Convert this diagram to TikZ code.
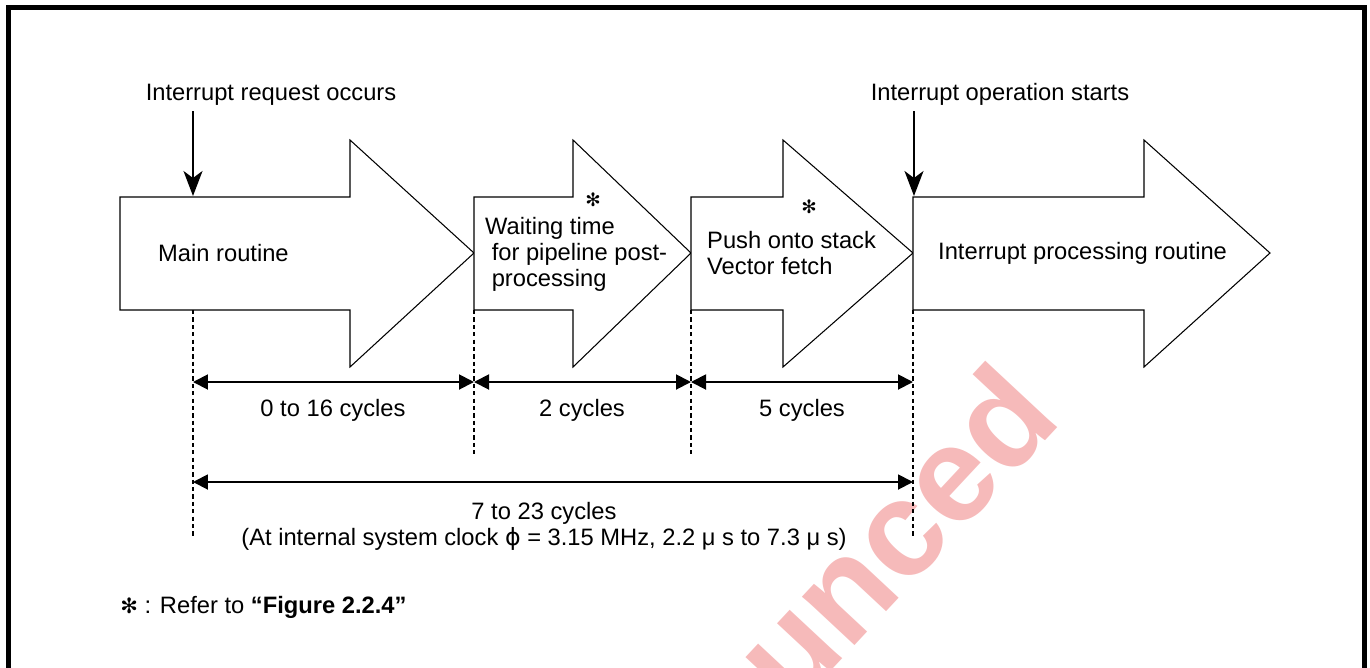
\documentclass[tikz,border=0pt]{standalone}
\usepackage{fontspec}
\setmainfont{Liberation Sans}
\newfontfamily\symfont{DejaVu Sans}
\usetikzlibrary{arrows.meta}

\definecolor{stampred}{RGB}{246,186,186}

\begin{document}
\begin{tikzpicture}[x=0.02cm, y=-0.02cm,
  font=\fontsize{13.5}{14.8}\selectfont,
  blockarrow/.style={draw, line width=0.6pt, fill=white},
  guide/.style={line width=0.6pt, dash pattern=on 2.4pt off 1.8pt},
  dimline/.style={line width=1.1pt, {Triangle[length=3mm,width=3mm]}-{Triangle[length=3mm,width=3mm]}},
  callout/.style={line width=1.1pt, -{Stealth[length=5mm,width=3.8mm,inset=1.4mm]}},
  starmark/.style={font=\symfont\fontsize{10.5}{10.5}\selectfont, inner sep=0pt}]
  \useasboundingbox (0,0) rectangle (1370,667);

  % faded stamp behind the figure
  \begin{scope}
    \clip (0,0) rectangle (1370,667);
    \node[text=stampred, font=\bfseries\fontsize{77}{77}\selectfont, rotate=47] (stamp) at (893,534) {unced};
  \end{scope}

  % frame, open at the bottom
  \draw[line width=2.85pt] (8.5,690) -- (8.5,7.5) -- (1364.5,7.5) -- (1364.5,690);

  % the four block arrows: left / head start / tip
  \foreach \l/\h/\t in {120/350/474, 474/573/691, 691/783/913, 913/1144/1270}
    \draw[blockarrow] (\l,197) -- (\h,197) -- (\h,140) -- (\t,253) -- (\h,367) -- (\h,310) -- (\l,310) -- cycle;

  % texts in the arrows
  \node[anchor=west] (mainlbl) at (152,253) {Main routine};
  \node[anchor=west, align=left] (waitlbl) at (479,254) {Waiting time\\\ for pipeline post-\\\ processing};
  \node[anchor=west, align=left] (pushlbl) at (701,253) {Push onto stack\\Vector fetch};
  \node[anchor=west] (isrlbl) at (932,253) {Interrupt processing routine};
  \node[starmark] (star2) at (593,200) {✻};
  \node[starmark] (star3) at (809,207) {✻};

  % events
  \node[anchor=base] (reqtxt) at (271,100) {Interrupt request occurs};
  \node[anchor=base] (opstxt) at (1000,100) {Interrupt operation starts};
  \coordinate (irq) at (193,196);
  \coordinate (ops) at (914,196);
  \draw[callout] (reqtxt.south -| irq) -- (irq);
  \draw[callout] (opstxt.south -| ops) -- (ops);

  % guide lines below the arrows
  \coordinate (g0) at (193,310);
  \coordinate (g1) at (474,310);
  \coordinate (g2) at (691,310);
  \coordinate (g3) at (913,310);
  \draw[guide] (g0) -- ++(0,228);
  \draw[guide] (g1) -- ++(0,147);
  \draw[guide] (g2) -- ++(0,147);
  \draw[guide] (g3) -- ++(0,228);

  % cycle counts
  \coordinate (d0) at (193,382);
  \coordinate (d1) at (474,382);
  \coordinate (d2) at (691,382);
  \coordinate (d3) at (913,382);
  \draw[dimline] (d0) -- (d1);
  \draw[dimline] (d1) -- (d2);
  \draw[dimline] (d2) -- (d3);
  \node (c016) at (333,410) {0 to 16 cycles};
  \node (c2) at (582,410) {2 cycles};
  \node (c5) at (802,410) {5 cycles};

  \coordinate (t0) at (193,482);
  \coordinate (t1) at (913,482);
  \draw[dimline] (t0) -- (t1);
  \node[align=center] (ctotal) at (544,526) {7 to 23 cycles\\(At internal system clock {\symfont ϕ} = 3.15 MHz, 2.2 μ s to 7.3 μ s)};

  % footnote
  \node[anchor=west, inner sep=0pt] (note) at (120,607) {{\symfont\fontsize{12}{12}\selectfont ✻} : Refer to \textbf{“Figure 2.2.4”}};
\end{tikzpicture}
\end{document}
